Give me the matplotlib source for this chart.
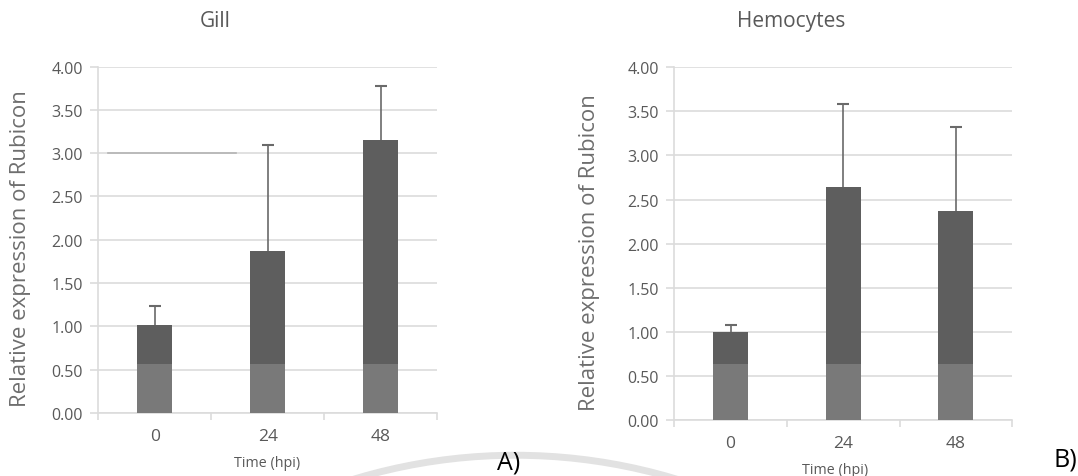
import numpy as np
import matplotlib.pyplot as plt
from matplotlib.patches import Arc

plt.rcParams['font.family'] = ['Open Sans', 'DejaVu Sans']

times = ['0', '24', '48']
y_ticks = [0, 0.5, 1.0, 1.5, 2.0, 2.5, 3.0, 3.5, 4.0]

gill_mean = [1.01, 1.87, 3.15]
gill_err = [0.22, 1.23, 0.63]
gill_base = 0.56

hemo_mean = [1.00, 2.64, 2.37]
hemo_err = [0.08, 0.94, 0.95]
hemo_base = 0.63

dark = '#5e5e5e'
light = '#797979'
grid = '#dcdcdc'
txt = '#595959'


def draw_panel(ax, means, errs, base):
    x = np.arange(len(times))
    means = np.array(means)
    tops = means + np.array(errs)
    ax.bar(x, means, width=0.31, color=dark, zorder=2)
    ax.bar(x, [base] * len(x), width=0.31, color=light, zorder=3)
    # upper-only error bars
    ax.vlines(x, means, tops, color='#6a6a6a', linewidth=1.2, zorder=4)
    ax.plot(x, tops, linestyle='none', marker='_', markersize=9,
            markeredgewidth=1.5, color='#6a6a6a', zorder=4)
    ax.set_xlim(-0.5, 2.5)
    ax.set_ylim(0, 4.0)
    ax.set_yticks(y_ticks)
    ax.set_yticklabels(['%.2f' % v for v in y_ticks], color=txt, fontsize=11.5)
    ax.set_xticks(x)
    ax.set_xticklabels(times, color=txt, fontsize=12.5)
    ax.set_xticks([-0.5, 0.5, 1.5, 2.5], minor=True)
    ax.tick_params(axis='x', which='major', length=0, pad=11)
    ax.tick_params(axis='x', which='minor', length=5, color=grid, width=1.2)
    ax.tick_params(axis='y', length=6, color=grid, width=1.2, pad=5)
    ax.grid(axis='y', color=grid, linewidth=1.2, zorder=0)
    ax.set_axisbelow(True)
    for s in ['top', 'right']:
        ax.spines[s].set_visible(False)
    ax.spines['left'].set_color(grid)
    ax.spines['bottom'].set_color(grid)
    ax.spines['left'].set_linewidth(1.2)
    ax.spines['bottom'].set_linewidth(1.2)


fig = plt.figure(figsize=(10.78, 4.77), dpi=100)

# faint watermark arc
arc = Arc((0.478, -1.124), 1.033, 2.335, theta1=60, theta2=120, transform=fig.transFigure,
          color='#e2e2e2', linewidth=5, zorder=0)
fig.patches.append(arc)

ax1 = fig.add_axes([0.0912, 0.1325, 0.3145, 0.7256])
draw_panel(ax1, gill_mean, gill_err, gill_base)
ax1.plot([-0.414, 0.719], [3.0, 3.0], color='#b4b4b4', linewidth=1.2, zorder=1)

ax2 = fig.add_axes([0.6255, 0.1174, 0.3135, 0.7394])
draw_panel(ax2, hemo_mean, hemo_err, hemo_base)
ax1.patch.set_alpha(0)
ax2.patch.set_alpha(0)

fig.text(0.2, 0.954, 'Gill', ha='center', va='center', fontsize=15, color=txt)
fig.text(0.734, 0.954, 'Hemocytes', ha='center', va='center', fontsize=15, color=txt)

fig.text(0.0186, 0.478, 'Relative expression of Rubicon', rotation=90, ha='center',
         va='center', fontsize=16, color='#6e6e6e')
fig.text(0.547, 0.470, 'Relative expression of Rubicon', rotation=90, ha='center',
         va='center', fontsize=16, color='#6e6e6e')

fig.text(0.248, 0.029, 'Time (hpi)', ha='center', va='center', fontsize=10.3, color=txt)
fig.text(0.7746, 0.014, 'Time (hpi)', ha='center', va='center', fontsize=10.3, color=txt)

fig.text(0.472, 0.03, 'A)', ha='center', va='center', fontsize=18, color='black')
fig.text(0.988, 0.035, 'B)', ha='center', va='center', fontsize=18, color='black')

fig.savefig('out.png', dpi=100, facecolor='white')
